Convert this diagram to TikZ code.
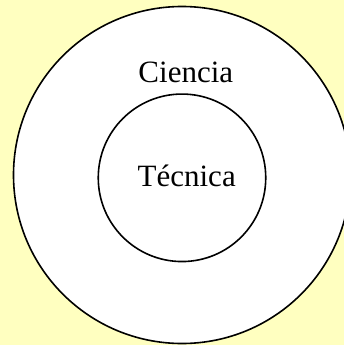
\documentclass[tikz,border=0pt]{standalone}
\usepackage{fontspec}
\setmainfont{Liberation Serif}
\definecolor{bgyellow}{HTML}{FFFFC0}
\begin{document}
\begin{tikzpicture}[x=1pt,y=-1pt,
  ring/.style={draw=black,line width=1.6pt,fill=white,circle,inner sep=0pt},
  lbl/.style={font=\fontsize{31}{36}\selectfont,anchor=base,inner sep=0pt}]
\fill[bgyellow] (0,0) rectangle (344,345);
\useasboundingbox (0,0) rectangle (344,345);
\begin{scope}
\clip (0,0) rectangle (344,345);
\node[ring,minimum size=337pt] (outer) at (182,175) {};
\end{scope}
\node[ring,minimum size=167.5pt] (inner) at (182,177.8) {};
\node[lbl] (ciencia) at (185.8,82.3) {Ciencia};
\node[lbl] (tecnica) at (186.7,186.7) {Técnica};
\end{tikzpicture}
\end{document}
